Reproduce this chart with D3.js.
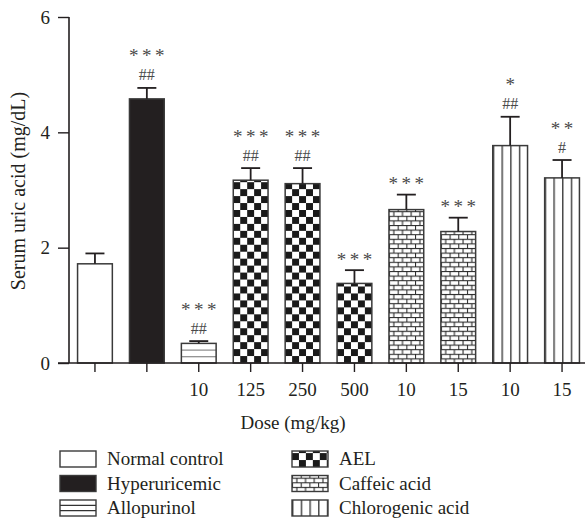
<!DOCTYPE html>
<html>
<head>
<meta charset="utf-8">
<script src="https://cdn.jsdelivr.net/npm/d3@7"></script>
<style>
  html, body { margin: 0; padding: 0; background: #fff; }
  svg { display: block; }
  text { font-family: "Liberation Serif", "DejaVu Serif", serif; fill: #231f20; }
</style>
</head>
<body>
<svg id="chart" width="585" height="526"></svg>
<script>
// ---- data ----
const groups   = ["Normal control", "Hyperuricemic", "Allopurinol", "AEL", "AEL", "AEL", "Caffeic acid", "Caffeic acid", "Chlorogenic acid", "Chlorogenic acid"];
const doseLabels = ["", "", "10", "125", "250", "500", "10", "15", "10", "15"];
const means    = [1.72, 4.58, 0.34, 3.17, 3.11, 1.38, 2.66, 2.28, 3.77, 3.21];
const errors   = [0.18, 0.19, 0.04, 0.21, 0.27, 0.23, 0.26, 0.24, 0.50, 0.31];
const stars    = ["", "***", "***", "***", "***", "***", "***", "***", "*", "**"];
const hashes   = ["", "##", "##", "##", "##", "", "", "", "##", "#"];
const yTicks   = [0, 2, 4, 6];
const legendItems = ["Normal control", "Hyperuricemic", "Allopurinol", "AEL", "Caffeic acid", "Chlorogenic acid"];

const svg = d3.select("#chart");
const defs = svg.append("defs");

const y = d3.scaleLinear().domain([0, 6]).range([363, 17]);
const x = d3.scaleBand().domain(d3.range(means.length)).range([69, 588])
  .paddingInner(0.33).paddingOuter(0.165);
const bw = x.bandwidth();

// ---- pattern factory ----
function makePattern(id, type, ox, oy) {
  const s = bw / 5;
  let p;
  if (type === "AEL") {
    p = defs.append("pattern").attr("id", id).attr("patternUnits", "userSpaceOnUse")
      .attr("width", 2 * s).attr("height", 2 * s)
      .attr("patternTransform", `translate(${ox},${oy})`);
    p.append("rect").attr("width", 2 * s).attr("height", 2 * s).attr("fill", "#fff");
    p.append("rect").attr("x", 0).attr("y", 0).attr("width", s).attr("height", s).attr("fill", "#1a1a1a");
    p.append("rect").attr("x", s).attr("y", s).attr("width", s).attr("height", s).attr("fill", "#1a1a1a");
  } else if (type === "Caffeic acid") {
    const w = bw / 4, h = 4.6;
    p = defs.append("pattern").attr("id", id).attr("patternUnits", "userSpaceOnUse")
      .attr("width", w).attr("height", 2 * h)
      .attr("patternTransform", `translate(${ox},${oy})`);
    p.append("rect").attr("width", w).attr("height", 2 * h).attr("fill", "#fff");
    p.append("line").attr("x1", 0).attr("x2", w).attr("y1", 0.5).attr("y2", 0.5);
    p.append("line").attr("x1", 0).attr("x2", w).attr("y1", h + 0.5).attr("y2", h + 0.5);
    p.append("line").attr("x1", 0.5).attr("x2", 0.5).attr("y1", 0).attr("y2", h);
    p.append("line").attr("x1", w / 2 + 0.5).attr("x2", w / 2 + 0.5).attr("y1", h).attr("y2", 2 * h);
    p.selectAll("line").attr("stroke", "#2a2a2a").attr("stroke-width", 1.1);
  } else if (type === "Chlorogenic acid") {
    const w = bw / 4;
    p = defs.append("pattern").attr("id", id).attr("patternUnits", "userSpaceOnUse")
      .attr("width", w).attr("height", 10)
      .attr("patternTransform", `translate(${ox},${oy})`);
    p.append("rect").attr("width", w).attr("height", 10).attr("fill", "#fff");
    p.append("line").attr("x1", 0.7).attr("x2", 0.7).attr("y1", 0).attr("y2", 10)
      .attr("stroke", "#444").attr("stroke-width", 1.5);
  } else if (type === "Allopurinol") {
    const h = 6.7;
    p = defs.append("pattern").attr("id", id).attr("patternUnits", "userSpaceOnUse")
      .attr("width", 10).attr("height", h)
      .attr("patternTransform", `translate(${ox},${oy})`);
    p.append("rect").attr("width", 10).attr("height", h).attr("fill", "#fff");
    p.append("line").attr("x1", 0).attr("x2", 10).attr("y1", 0).attr("y2", 0)
      .attr("stroke", "#333").attr("stroke-width", 1.4);
  }
  return `url(#${id})`;
}
function fillFor(type, id, ox, oy) {
  if (type === "Normal control") return "#fff";
  if (type === "Hyperuricemic") return "#231f20";
  return makePattern(id, type, ox, oy);
}

// ---- bars ----
const bars = svg.append("g");
means.forEach((m, i) => {
  const bx = x(i);
  bars.append("rect")
    .attr("x", bx).attr("y", y(m))
    .attr("width", bw).attr("height", y(0) - y(m))
    .attr("fill", fillFor(groups[i], "pat" + i, bx, y(0)))
    .attr("stroke", "#3a3a3a").attr("stroke-width", 1.5);
});

// ---- error bars ----
const eb = svg.append("g").attr("stroke", "#231f20").attr("stroke-width", 1.8);
means.forEach((m, i) => {
  const cx = x(i) + bw / 2;
  eb.append("line").attr("x1", cx).attr("x2", cx).attr("y1", y(m)).attr("y2", y(m + errors[i]));
  eb.append("line").attr("x1", cx - 9.5).attr("x2", cx + 9.5).attr("y1", y(m + errors[i])).attr("y2", y(m + errors[i]));
});

// ---- annotations ----
const ann = svg.append("g").attr("text-anchor", "middle");
means.forEach((m, i) => {
  const cx = x(i) + bw / 2;
  const top = y(m + errors[i]);
  let level = top - 13;
  if (hashes[i]) {
    ann.append("text").attr("x", cx).attr("y", level + 5.5)
      .attr("font-size", 16).style("fill", "#4a4a4a")
      .text(hashes[i]);
    level -= 21;
  }
  if (stars[i]) {
    ann.append("text").attr("x", cx + 1.75).attr("y", level + 8.5)
      .attr("font-size", 19).style("fill", "#4a4a4a").attr("letter-spacing", 3.5)
      .text(stars[i]);
  }
});

// ---- axes ----
const yAxis = svg.append("g").attr("transform", "translate(69,0)")
  .call(d3.axisLeft(y).tickValues(yTicks).tickSize(11).tickPadding(8).tickFormat(d3.format("d")));
yAxis.select(".domain").attr("d", `M0,${y(6)}V${y(0)}`).attr("stroke", "#231f20").attr("stroke-width", 1.6);
yAxis.selectAll(".tick line").attr("stroke", "#231f20").attr("stroke-width", 1.4);
yAxis.selectAll(".tick text").attr("font-size", 19).attr("font-family", "Liberation Serif").style("fill", "#231f20");

const xAxis = svg.append("g").attr("transform", `translate(0,${y(0)})`)
  .call(d3.axisBottom(x).tickSize(9).tickPadding(11).tickFormat(i => doseLabels[i]));
xAxis.select(".domain").attr("d", "M58,0H585").attr("stroke", "#231f20").attr("stroke-width", 1.6);
xAxis.selectAll(".tick line").attr("stroke", "#231f20").attr("stroke-width", 1.4);
xAxis.selectAll(".tick text").attr("font-size", 19).attr("font-family", "Liberation Serif").style("fill", "#231f20");

// ---- axis titles ----
svg.append("text").attr("transform", "translate(25,191) rotate(-90)")
  .attr("text-anchor", "middle").attr("font-size", 20).text("Serum uric acid (mg/dL)");
svg.append("text").attr("x", 293).attr("y", 429)
  .attr("text-anchor", "middle").attr("font-size", 19).text("Dose (mg/kg)");

// ---- legend ----
const legend = svg.append("g");
legendItems.forEach((name, k) => {
  const col = Math.floor(k / 3), row = k % 3;
  const bx = col === 0 ? 60 : 292;
  const bwL = 36, bhL = 16;
  const by = 451 + row * 24.5;
  let f;
  if (name === "Allopurinol") {
    f = "#fff";
  } else {
    f = fillFor(name, "lpat" + k, bx, by + bhL);
  }
  legend.append("rect").attr("x", bx).attr("y", by).attr("width", bwL).attr("height", bhL)
    .attr("fill", f).attr("stroke", "#3a3a3a").attr("stroke-width", 1.4);
  if (name === "Allopurinol") {
    [1, 2].forEach(j => legend.append("line")
      .attr("x1", bx).attr("x2", bx + bwL)
      .attr("y1", by + j * bhL / 3).attr("y2", by + j * bhL / 3)
      .attr("stroke", "#333").attr("stroke-width", 1.4));
  }
  legend.append("text").attr("x", bx + 47).attr("y", by + 14)
    .attr("font-size", 19).text(name);
});
</script>
</body>
</html>
